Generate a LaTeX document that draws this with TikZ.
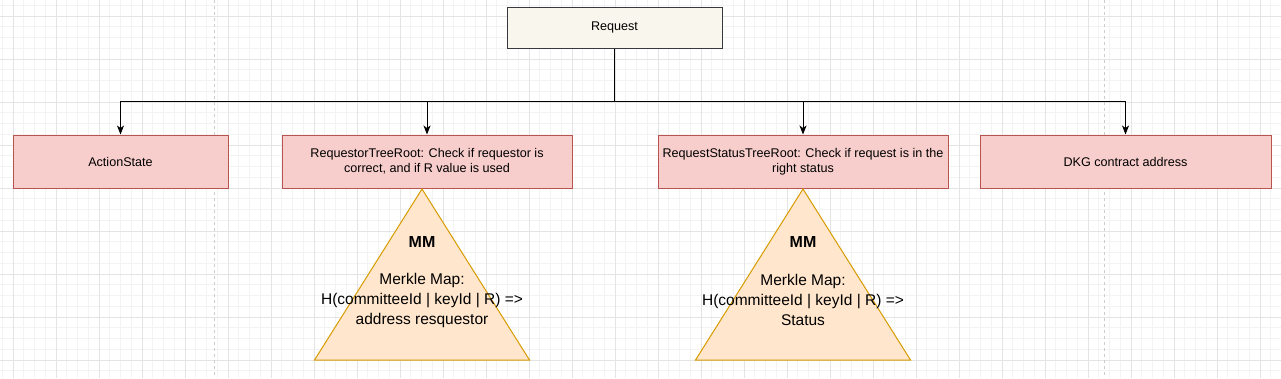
\documentclass[tikz,border=0pt]{standalone}
\usepackage{fontspec}
\setmainfont{Liberation Sans}
\usetikzlibrary{arrows.meta,positioning,calc}
\definecolor{reqfill}{HTML}{F9F7ED}
\definecolor{reqline}{HTML}{36393D}
\definecolor{rootfill}{HTML}{F8CECC}
\definecolor{rootline}{HTML}{B85450}
\definecolor{mmfill}{HTML}{FFE6CC}
\definecolor{mmline}{HTML}{D79B00}
\definecolor{gridminor}{HTML}{F3F3F3}
\definecolor{gridmajor}{HTML}{E4E4E4}
\definecolor{pagebreak}{HTML}{CCCCCC}

\begin{document}
\begin{tikzpicture}[x=1pt,y=-1pt,font=\fontsize{12.6}{15}\selectfont,
  reqbox/.style={draw=reqline,fill=reqfill,line width=1pt,inner sep=0pt},
  rootbox/.style={draw=rootline,fill=rootfill,line width=1pt,inner sep=0pt,
                  minimum height=53pt,align=center},
  mmtri/.style={draw=mmline,fill=mmfill,line width=1pt,line join=miter},
  mmtext/.style={font=\fontsize{15.5}{20}\selectfont,align=center},
  link/.style={-{Stealth[length=9pt,width=7pt,inset=2.5pt]},line width=1pt}]
  \useasboundingbox (0,0) rectangle (1281,378);
  % background grid
  \foreach \i in {0,...,119}
    \draw[gridminor,line width=0.8pt] ({2.25+10.75*\i},0) -- ++(0,378);
  \foreach \j in {0,...,35}
    \draw[gridminor,line width=0.8pt] (0,{5.25+10.75*\j}) -- ++(1281,0);
  \foreach \i in {0,...,29}
    \draw[gridmajor,line width=0.8pt] ({13+43*\i},0) -- ++(0,378);
  \foreach \j in {0,...,8}
    \draw[gridmajor,line width=0.8pt] (0,{16+43*\j}) -- ++(1281,0);
  \foreach \x in {214,1104}
    \draw[pagebreak,line width=1pt,dash pattern=on 3pt off 3pt] (\x,0) -- (\x,378);

  % top node and the four roots
  \node[reqbox,minimum width=215pt,minimum height=41pt] (request) at (614.5,27.5) {Request};
  \node[rootbox,minimum width=215pt] (action) at (120.5,161.5) {ActionState};
  \node[rootbox,minimum width=290pt] (requestor) at (427,161.5)
    {RequestorTreeRoot: Check if requestor is\\correct, and if R value is used};
  \node[rootbox,minimum width=290pt] (status) at (803,161.5)
    {RequestStatusTreeRoot: Check if request is in the\\right status};
  \node[rootbox,minimum width=291pt] (dkg) at (1125.5,161.5) {DKG contract address};

  \foreach \target in {action,requestor,status,dkg}
    \draw[link] (request.south) -- ++(0,53) -| (\target.north);

  % merkle maps below the two tree roots
  \coordinate (tipA) at (422,189);
  \coordinate (tipB) at (803,189);
  \foreach \tip in {tipA,tipB}
    \draw[mmtri] (\tip) -- ++(107.5,171) -- ++(-215,0) -- cycle;
  \node[mmtext,font=\fontsize{16}{20}\selectfont\bfseries] (mmAtitle) at (422,242) {MM};
  \node[mmtext] (mmAtext) at (422,300) {Merkle Map:\\H(committeeId | keyId | R) =>\\address resquestor};
  \node[mmtext,font=\fontsize{16}{20}\selectfont\bfseries] (mmBtitle) at (803,242) {MM};
  \node[mmtext] (mmBtext) at (803,300) {Merkle Map:\\H(committeeId | keyId | R) =>\\Status};
\end{tikzpicture}
\end{document}
